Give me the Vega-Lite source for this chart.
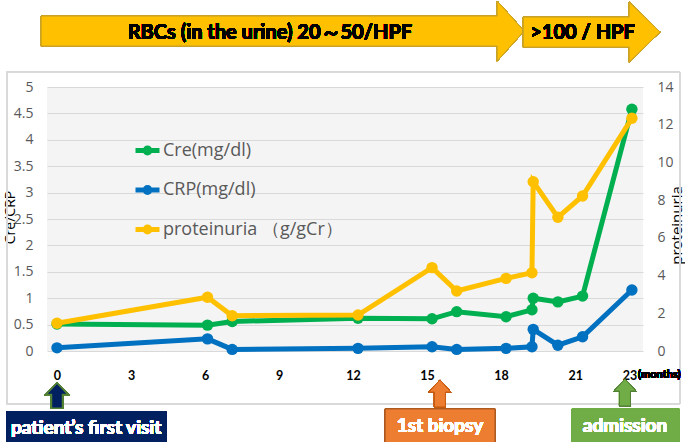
{
  "$schema": "https://vega.github.io/schema/vega-lite/v6.json",
  "width": 596,
  "height": 264,
  "autosize": {"type": "none"},
  "padding": {"left": 47, "top": 87, "right": 42, "bottom": 91},
  "background": "white",
  "config": {
    "view": {"fill": "#f4f4f4", "stroke": null}
  },
  "data": {
    "values": [
      {"i": 1, "month": 0, "series": "Cre(mg/dl)", "value": 0.51},
      {"i": 2, "month": 6.1, "series": "Cre(mg/dl)", "value": 0.49},
      {"i": 3, "month": 7.1, "series": "Cre(mg/dl)", "value": 0.56},
      {"i": 4, "month": 12.2, "series": "Cre(mg/dl)", "value": 0.62},
      {"i": 5, "month": 15.2, "series": "Cre(mg/dl)", "value": 0.61},
      {"i": 6, "month": 16.2, "series": "Cre(mg/dl)", "value": 0.745},
      {"i": 7, "month": 18.2, "series": "Cre(mg/dl)", "value": 0.65},
      {"i": 8, "month": 19.25, "series": "Cre(mg/dl)", "value": 0.78},
      {"i": 9, "month": 19.3, "series": "Cre(mg/dl)", "value": 1.0},
      {"i": 10, "month": 20.3, "series": "Cre(mg/dl)", "value": 0.93},
      {"i": 11, "month": 21.3, "series": "Cre(mg/dl)", "value": 1.04},
      {"i": 12, "month": 23.3, "series": "Cre(mg/dl)", "value": 4.58},
      {"i": 1, "month": 0, "series": "CRP(mg/dl)", "value": 0.06},
      {"i": 2, "month": 6.1, "series": "CRP(mg/dl)", "value": 0.23},
      {"i": 3, "month": 7.1, "series": "CRP(mg/dl)", "value": 0.03},
      {"i": 4, "month": 12.2, "series": "CRP(mg/dl)", "value": 0.05},
      {"i": 5, "month": 15.2, "series": "CRP(mg/dl)", "value": 0.08},
      {"i": 6, "month": 16.2, "series": "CRP(mg/dl)", "value": 0.03},
      {"i": 7, "month": 18.2, "series": "CRP(mg/dl)", "value": 0.05},
      {"i": 8, "month": 19.25, "series": "CRP(mg/dl)", "value": 0.08},
      {"i": 9, "month": 19.3, "series": "CRP(mg/dl)", "value": 0.41},
      {"i": 10, "month": 20.3, "series": "CRP(mg/dl)", "value": 0.11},
      {"i": 11, "month": 21.3, "series": "CRP(mg/dl)", "value": 0.27},
      {"i": 12, "month": 23.3, "series": "CRP(mg/dl)", "value": 1.155},
      {"i": 1, "month": 0, "series": "proteinuria （g/gCr）", "value": 1.47},
      {"i": 2, "month": 6.1, "series": "proteinuria （g/gCr）", "value": 2.85},
      {"i": 3, "month": 7.1, "series": "proteinuria （g/gCr）", "value": 1.87},
      {"i": 4, "month": 12.2, "series": "proteinuria （g/gCr）", "value": 1.91},
      {"i": 5, "month": 15.2, "series": "proteinuria （g/gCr）", "value": 4.42},
      {"i": 6, "month": 16.2, "series": "proteinuria （g/gCr）", "value": 3.18},
      {"i": 7, "month": 18.2, "series": "proteinuria （g/gCr）", "value": 3.85},
      {"i": 8, "month": 19.25, "series": "proteinuria （g/gCr）", "value": 4.15},
      {"i": 9, "month": 19.3, "series": "proteinuria （g/gCr）", "value": 8.98},
      {"i": 10, "month": 20.3, "series": "proteinuria （g/gCr）", "value": 7.09},
      {"i": 11, "month": 21.3, "series": "proteinuria （g/gCr）", "value": 8.22},
      {"i": 12, "month": 23.3, "series": "proteinuria （g/gCr）", "value": 12.34}
    ]
  },
  "resolve": {"scale": {"y": "independent"}},
  "layer": [
    {
      "mark": {"type": "rect", "filled": false, "stroke": "#d9d9d9", "strokeWidth": 1},
      "encoding": {
        "x": {
          "datum": -2.03, "type": "quantitative",
          "scale": {"domain": [-0.405, 23.75], "nice": false, "zero": false},
          "axis": {
            "title": null, "values": [0, 3, 6, 9, 12, 15, 18, 21, 23.2],
            "labelExpr": "datum.value > 23 ? '23' : datum.label",
            "grid": false, "ticks": false, "tickSize": 0, "domain": false,
            "labelFont": "Lato", "labelFontWeight": "bold", "labelFontSize": 12.5,
            "labelColor": "#000000", "labelPadding": 18
          }
        },
        "x2": {"datum": 25.25},
        "y": {"datum": 5.284, "type": "quantitative", "scale": {"domain": [0, 5], "nice": false, "zero": false}, "axis": null},
        "y2": {"datum": -1.004}
      }
    },
    {
      "transform": [{"filter": {"field": "series", "oneOf": ["Cre(mg/dl)", "CRP(mg/dl)"]}}],
      "mark": {"type": "line", "strokeWidth": 5},
      "encoding": {
        "x": {"field": "month", "type": "quantitative", "scale": {"domain": [-0.405, 23.75], "nice": false, "zero": false}},
        "y": {
          "field": "value", "type": "quantitative",
          "scale": {"domain": [0, 5], "nice": false, "zero": false},
          "axis": {
            "title": "Cre/CRP", "values": [0, 0.5, 1, 1.5, 2, 2.5, 3, 3.5, 4, 4.5, 5],
            "format": "~g",
            "grid": true, "gridColor": "#d9d9d9", "gridWidth": 1,
            "ticks": false, "tickSize": 0, "domain": false,
            "labelFont": "Open Sans", "labelFontSize": 14, "labelColor": "#595959", "labelPadding": 14,
            "titleFont": "Open Sans", "titleFontSize": 14, "titleFontWeight": "normal", "titleColor": "#000000",
            "titleAngle": -90, "titleBaseline": "middle", "titleAlign": "center", "titleX": -37, "titleY": 130
          }
        },
        "color": {
          "field": "series", "type": "nominal",
          "scale": {"domain": ["Cre(mg/dl)", "CRP(mg/dl)", "proteinuria （g/gCr）"], "range": ["#00b050", "#0070c0", "#ffc000"]},
          "legend": {
            "orient": "none", "legendX": 86, "legendY": 49, "title": null,
            "symbolType": "M -1 0 L 1 0 M -0.2 0 A 0.2 0.2 0 1 0 0.2 0 A 0.2 0.2 0 1 0 -0.2 0 Z",
            "symbolSize": 576, "symbolStrokeWidth": 5, "symbolOpacity": 1,
            "labelFont": "Open Sans", "labelFontSize": 18, "labelColor": "#595959",
            "labelOffset": 1, "rowPadding": 12.5, "labelLimit": 400
          }
        },
        "order": {"field": "i"}
      }
    },
    {
      "transform": [{"filter": {"field": "series", "oneOf": ["Cre(mg/dl)", "CRP(mg/dl)"]}}],
      "mark": {"type": "point", "filled": true, "size": 130, "opacity": 1},
      "encoding": {
        "x": {"field": "month", "type": "quantitative", "scale": {"domain": [-0.405, 23.75], "nice": false, "zero": false}},
        "y": {"field": "value", "type": "quantitative", "scale": {"domain": [0, 5], "nice": false, "zero": false}, "axis": null},
        "color": {
          "field": "series", "type": "nominal",
          "scale": {"domain": ["Cre(mg/dl)", "CRP(mg/dl)", "proteinuria （g/gCr）"], "range": ["#00b050", "#0070c0", "#ffc000"]}
        }
      }
    },
    {
      "transform": [{"filter": {"field": "series", "equal": "proteinuria （g/gCr）"}}],
      "mark": {"type": "line", "strokeWidth": 5},
      "encoding": {
        "x": {"field": "month", "type": "quantitative", "scale": {"domain": [-0.405, 23.75], "nice": false, "zero": false}},
        "y": {
          "field": "value", "type": "quantitative",
          "scale": {"domain": [0, 14], "nice": false, "zero": false},
          "axis": {
            "orient": "right", "title": "proteinuria", "values": [0, 2, 4, 6, 8, 10, 12, 14],
            "grid": false, "ticks": false, "tickSize": 0, "domain": false,
            "labelFont": "Open Sans", "labelFontSize": 14, "labelColor": "#595959", "labelPadding": 14,
            "titleFont": "Open Sans", "titleFontSize": 15, "titleFontWeight": "normal", "titleColor": "#000000",
            "titleAngle": -90, "titleBaseline": "middle", "titleAlign": "center", "titleX": 33, "titleY": 138
          }
        },
        "color": {
          "field": "series", "type": "nominal",
          "scale": {"domain": ["Cre(mg/dl)", "CRP(mg/dl)", "proteinuria （g/gCr）"], "range": ["#00b050", "#0070c0", "#ffc000"]}
        },
        "order": {"field": "i"}
      }
    },
    {
      "transform": [{"filter": {"field": "series", "equal": "proteinuria （g/gCr）"}}],
      "mark": {"type": "point", "filled": true, "size": 130, "opacity": 1},
      "encoding": {
        "x": {"field": "month", "type": "quantitative", "scale": {"domain": [-0.405, 23.75], "nice": false, "zero": false}},
        "y": {"field": "value", "type": "quantitative", "scale": {"domain": [0, 14], "nice": false, "zero": false}, "axis": null},
        "color": {
          "field": "series", "type": "nominal",
          "scale": {"domain": ["Cre(mg/dl)", "CRP(mg/dl)", "proteinuria （g/gCr）"], "range": ["#00b050", "#0070c0", "#ffc000"]}
        }
      }
    },
    {
      "mark": {"type": "point", "shape": "M -15.2 -0.5 L 0 -0.5 L 0 -1 L 0.9 0 L 0 1 L 0 0.5 L -15.2 0.5 Z", "size": 3600, "filled": true, "fill": "#ffc000", "stroke": "#c9a227", "strokeWidth": 1, "opacity": 1},
      "encoding": {
        "x": {"datum": 17.84, "type": "quantitative", "scale": {"domain": [-0.405, 23.75], "nice": false, "zero": false}},
        "y": {"datum": 6.06, "type": "quantitative", "scale": {"domain": [0, 5], "nice": false, "zero": false}, "axis": null}
      }
    },
    {
      "mark": {"type": "point", "shape": "M -3.53 -0.5 L 0 -0.5 L 0 -1 L 1.03 0 L 0 1 L 0 0.5 L -3.53 0.5 Z", "size": 3600, "filled": true, "fill": "#ffc000", "stroke": "#c9a227", "strokeWidth": 1, "opacity": 1},
      "encoding": {
        "x": {"datum": 23.19, "type": "quantitative", "scale": {"domain": [-0.405, 23.75], "nice": false, "zero": false}},
        "y": {"datum": 6.04, "type": "quantitative", "scale": {"domain": [0, 5], "nice": false, "zero": false}, "axis": null}
      }
    },
    {
      "mark": {"type": "text", "font": "Lato", "fontWeight": "bold", "fontSize": 20, "color": "#000000", "align": "center", "baseline": "middle"},
      "encoding": {
        "x": {"datum": 8.63, "type": "quantitative", "scale": {"domain": [-0.405, 23.75], "nice": false, "zero": false}},
        "y": {"datum": 6.02, "type": "quantitative", "scale": {"domain": [0, 5], "nice": false, "zero": false}, "axis": null},
        "text": {"value": "RBCs (in the urine) 20～50/HPF"}
      }
    },
    {
      "mark": {"type": "text", "font": "Lato", "fontWeight": "bold", "fontSize": 20, "color": "#000000", "align": "center", "baseline": "middle"},
      "encoding": {
        "x": {"datum": 21.3, "type": "quantitative", "scale": {"domain": [-0.405, 23.75], "nice": false, "zero": false}},
        "y": {"datum": 6.02, "type": "quantitative", "scale": {"domain": [0, 5], "nice": false, "zero": false}, "axis": null},
        "text": {"value": ">100 / HPF"}
      }
    },
    {
      "mark": {"type": "text", "font": "Lato", "fontWeight": "bold", "fontSize": 11, "color": "#000000", "align": "left", "baseline": "middle"},
      "encoding": {
        "x": {"datum": 23.55, "type": "quantitative", "scale": {"domain": [-0.405, 23.75], "nice": false, "zero": false}},
        "y": {"datum": -0.46, "type": "quantitative", "scale": {"domain": [0, 5], "nice": false, "zero": false}, "axis": null},
        "text": {"value": "(months)"}
      }
    },
    {
      "mark": {"type": "point", "shape": "M 0 0 L 1 1.05 L 0.5 1.05 L 0.5 2.3 L -0.5 2.3 L -0.5 1.05 L -1 1.05 Z", "size": 484, "filled": true, "fill": "#002060", "stroke": "#548235", "strokeWidth": 1.5, "opacity": 1},
      "encoding": {
        "x": {"datum": 0, "type": "quantitative", "scale": {"domain": [-0.405, 23.75], "nice": false, "zero": false}},
        "y": {"datum": -0.606, "type": "quantitative", "scale": {"domain": [0, 5], "nice": false, "zero": false}, "axis": null}
      }
    },
    {
      "mark": {"type": "point", "shape": "M 0 0 L 1 1.1 L 0.5 1.1 L 0.5 2.45 L -0.5 2.45 L -0.5 1.1 L -1 1.1 Z", "size": 484, "filled": true, "fill": "#ed7d31", "stroke": "#c55a11", "strokeWidth": 1, "opacity": 1},
      "encoding": {
        "x": {"datum": 15.52, "type": "quantitative", "scale": {"domain": [-0.405, 23.75], "nice": false, "zero": false}},
        "y": {"datum": -0.549, "type": "quantitative", "scale": {"domain": [0, 5], "nice": false, "zero": false}, "axis": null}
      }
    },
    {
      "mark": {"type": "point", "shape": "M 0 0 L 1 1.1 L 0.5 1.1 L 0.5 2.45 L -0.5 2.45 L -0.5 1.1 L -1 1.1 Z", "size": 484, "filled": true, "fill": "#70ad47", "stroke": "#548235", "strokeWidth": 1, "opacity": 1},
      "encoding": {
        "x": {"datum": 23.02, "type": "quantitative", "scale": {"domain": [-0.405, 23.75], "nice": false, "zero": false}},
        "y": {"datum": -0.53, "type": "quantitative", "scale": {"domain": [0, 5], "nice": false, "zero": false}, "axis": null}
      }
    },
    {
      "mark": {"type": "rect", "fill": "#002060", "stroke": "#002060", "strokeWidth": 1},
      "encoding": {
        "x": {"datum": -2.03, "type": "quantitative", "scale": {"domain": [-0.405, 23.75], "nice": false, "zero": false}},
        "x2": {"datum": 4.42},
        "y": {"datum": -1.155, "type": "quantitative", "scale": {"domain": [0, 5], "nice": false, "zero": false}, "axis": null},
        "y2": {"datum": -1.76}
      }
    },
    {
      "mark": {"type": "rect", "fill": "#ed7d31", "stroke": "#ae5a21", "strokeWidth": 1},
      "encoding": {
        "x": {"datum": 13.3, "type": "quantitative", "scale": {"domain": [-0.405, 23.75], "nice": false, "zero": false}},
        "x2": {"datum": 17.75},
        "y": {"datum": -1.098, "type": "quantitative", "scale": {"domain": [0, 5], "nice": false, "zero": false}, "axis": null},
        "y2": {"datum": -1.76}
      }
    },
    {
      "mark": {"type": "rect", "fill": "#70ad47", "stroke": "#70ad47", "strokeWidth": 1},
      "encoding": {
        "x": {"datum": 20.88, "type": "quantitative", "scale": {"domain": [-0.405, 23.75], "nice": false, "zero": false}},
        "x2": {"datum": 25.21},
        "y": {"datum": -1.098, "type": "quantitative", "scale": {"domain": [0, 5], "nice": false, "zero": false}, "axis": null},
        "y2": {"datum": -1.76}
      }
    },
    {
      "mark": {"type": "text", "font": "Lato", "fontWeight": "bold", "fontSize": 19, "color": "#ffffff", "align": "center", "baseline": "middle"},
      "encoding": {
        "x": {"datum": 1.18, "type": "quantitative", "scale": {"domain": [-0.405, 23.75], "nice": false, "zero": false}},
        "y": {"datum": -1.458, "type": "quantitative", "scale": {"domain": [0, 5], "nice": false, "zero": false}, "axis": null},
        "text": {"value": "patient’s first visit"}
      }
    },
    {
      "mark": {"type": "text", "font": "Lato", "fontWeight": "bold", "fontSize": 19, "color": "#ffffff", "align": "center", "baseline": "middle"},
      "encoding": {
        "x": {"datum": 15.52, "type": "quantitative", "scale": {"domain": [-0.405, 23.75], "nice": false, "zero": false}},
        "y": {"datum": -1.42, "type": "quantitative", "scale": {"domain": [0, 5], "nice": false, "zero": false}, "axis": null},
        "text": {"value": "1st biopsy"}
      }
    },
    {
      "mark": {"type": "text", "font": "Lato", "fontWeight": "bold", "fontSize": 19, "color": "#ffffff", "align": "center", "baseline": "middle"},
      "encoding": {
        "x": {"datum": 23.02, "type": "quantitative", "scale": {"domain": [-0.405, 23.75], "nice": false, "zero": false}},
        "y": {"datum": -1.42, "type": "quantitative", "scale": {"domain": [0, 5], "nice": false, "zero": false}, "axis": null},
        "text": {"value": "admission"}
      }
    }
  ]
}
